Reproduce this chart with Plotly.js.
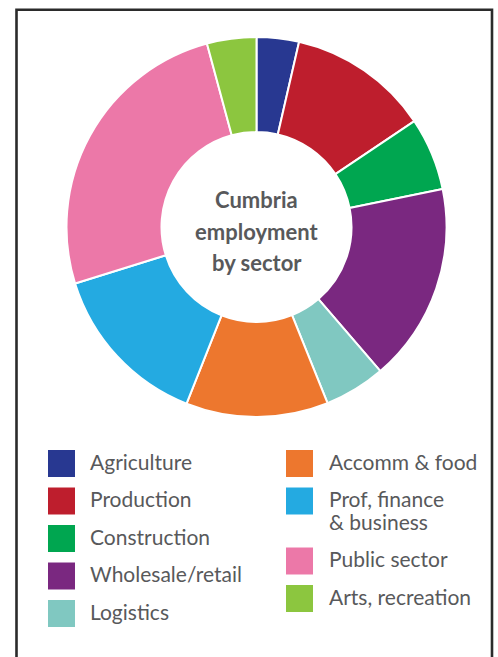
<!DOCTYPE html>
<html>
<head>
<meta charset="utf-8">
<script src="https://cdn.plot.ly/plotly-3.0.1.min.js"></script>
<style>
  html, body { margin: 0; padding: 0; background: #ffffff; }
  #chart { width: 498px; height: 657px; }
</style>
</head>
<body>
<div id="chart"></div>
<script>
// Data (share of employment, %)
const sectors = ["Agriculture", "Production", "Construction", "Wholesale/retail", "Logistics",
                 "Accomm & food", "Prof, finance<br>& business", "Public sector", "Arts, recreation"];
const shares = [3.6, 12.0, 6.2, 16.9, 5.2, 12.1, 14.2, 25.6, 4.2];
const colours = ["#283891", "#be1e2d", "#00a650", "#7a2880", "#80c8c1",
                 "#ed772e", "#24aae1", "#ec78a8", "#8cc63f"];
const centreTitle = ["Cumbria", "employment", "by sector"];

const W = 498, H = 657;
const px = x => x / W;
const py = y => 1 - y / H;

const trace = {
  type: "pie",
  labels: sectors,
  values: shares,
  marker: { colors: colours, line: { color: "#ffffff", width: 2 } },
  hole: 0.5,
  sort: false,
  direction: "clockwise",
  rotation: 0,
  textinfo: "none",
  hoverinfo: "label+value",
  showlegend: false,
  domain: { x: [px(66.5), px(446.5)], y: [py(417), py(37)] }
};

const shapes = [];
const annotations = [];

// border
shapes.push({ type: "rect", xref: "paper", yref: "paper",
  x0: px(16.5), x1: px(492), y0: -0.02, y1: py(9.8),
  line: { color: "#2b2b2b", width: 2.6 }, fillcolor: "rgba(0,0,0,0)" });

// centre title
centreTitle.forEach((t, i) => {
  annotations.push({ xref: "paper", yref: "paper", x: px(256.5), y: py(199.5 + i * 31.7),
    xanchor: "center", yanchor: "middle", showarrow: false, text: "<b>" + t + "</b>",
    font: { family: "Lato, sans-serif", size: 22, color: "#58595b" } });
});

// legend (two columns)
const cols = [{ start: 0, end: 5, sq: 48, tx: 88 }, { start: 5, end: 9, sq: 286, tx: 326.5 }];
cols.forEach(c => {
  let top = 450;
  for (let i = c.start; i < c.end; i++) {
    const lines = sectors[i].split("<br>");
    shapes.push({ type: "rect", xref: "paper", yref: "paper",
      x0: px(c.sq), x1: px(c.sq + 27), y0: py(top + 27), y1: py(top),
      line: { width: 0 }, fillcolor: colours[i] });
    lines.forEach((ln, k) => {
      annotations.push({ xref: "paper", yref: "paper", x: px(c.tx), y: py(top + 11 + k * 23),
        xanchor: "left", yanchor: "middle", showarrow: false, align: "left",
        text: ln, font: { family: "Lato, sans-serif", size: 21, color: "#58595b" } });
    });
    top += 37.5 + (lines.length - 1) * 22.5;
  }
});

const layout = {
  width: W, height: H,
  margin: { l: 0, r: 0, t: 0, b: 0 },
  paper_bgcolor: "#ffffff",
  showlegend: false,
  shapes: shapes,
  annotations: annotations
};

Plotly.newPlot("chart", [trace], layout, { displayModeBar: false, staticPlot: true });
</script>
</body>
</html>
